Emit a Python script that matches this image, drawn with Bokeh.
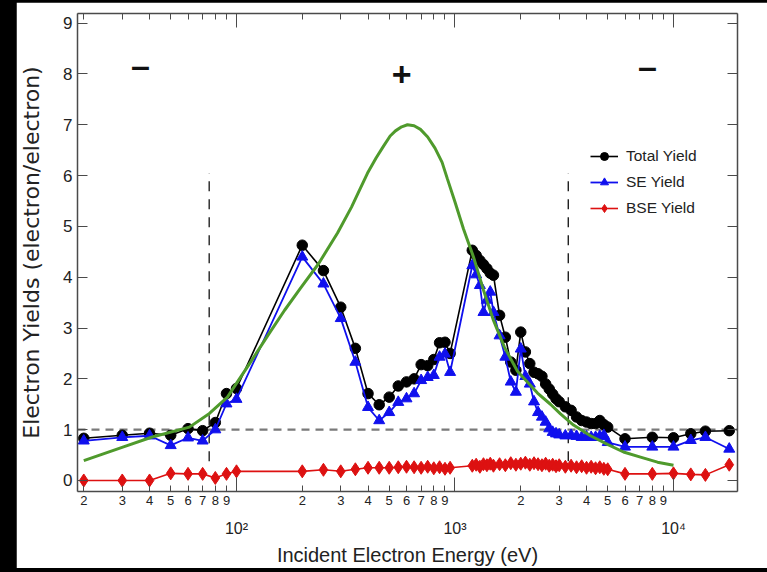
from bokeh.plotting import figure
from bokeh.models import (Range1d, FixedTicker, LogAxis, LinearAxis, Legend,
                          GlobalInlineStyleSheet)
from bokeh.core.properties import value
from bokeh.embed import file_html
from bokeh.resources import INLINE

# ---------------- data ----------------
energy_eV = [20, 30, 40, 50, 60, 70, 80, 90, 100,
             200, 250, 300, 350, 400, 450, 500, 550, 600, 650, 700, 750, 800, 850, 900, 950,
             1200, 1250, 1300, 1350, 1400, 1450, 1500, 1600, 1700, 1800, 1900, 2000, 2100,
             2200, 2300, 2400, 2500, 2600, 2700, 2800, 2900, 3000, 3200, 3400, 3600, 3800,
             4000, 4200, 4400, 4600, 4800, 5000,
             6000, 8000, 10000, 12000, 14000, 18000]

total_yield = [0.83, 0.89, 0.93, 0.89, 1.02, 0.98, 1.14, 1.71, 1.81,
               4.63, 4.13, 3.41, 2.60, 1.71, 1.49, 1.64, 1.86, 1.94, 2.00, 2.28, 2.26, 2.38, 2.71, 2.72, 2.50,
               4.53, 4.43, 4.33, 4.25, 4.17, 4.08, 4.04, 3.25, 2.82, 2.33, 2.17, 2.92, 2.53,
               2.30, 2.13, 2.10, 2.05, 1.90, 1.80, 1.70, 1.61, 1.55, 1.45, 1.38, 1.25, 1.18,
               1.15, 1.12, 1.12, 1.18, 1.10, 1.05,
               0.82, 0.85, 0.84, 0.92, 0.97, 0.98]

se_yield = [0.78, 0.85, 0.88, 0.69, 0.84, 0.78, 1.00, 1.51, 1.60,
            4.40, 3.87, 3.19, 2.33, 1.44, 1.18, 1.34, 1.54, 1.61, 1.71, 1.97, 2.03, 2.07, 2.43, 2.49, 2.13,
            4.23, 4.05, 3.84, 3.31, 3.55, 3.71, 3.31, 2.85, 2.43, 1.94, 1.74, 2.59, 2.05,
            1.90, 1.55, 1.34, 1.25, 1.15, 1.02, 0.95, 0.92, 0.90, 0.88, 0.89, 0.87, 0.85,
            0.86, 0.85, 0.85, 0.87, 0.89, 0.75,
            0.66, 0.66, 0.66, 0.79, 0.85, 0.62]

bse_yield = [0.00, 0.00, 0.00, 0.14, 0.13, 0.13, 0.05, 0.13, 0.18,
             0.18, 0.21, 0.18, 0.22, 0.25, 0.25, 0.25, 0.26, 0.27, 0.26, 0.25, 0.27, 0.24, 0.26, 0.23, 0.25,
             0.29, 0.31, 0.27, 0.32, 0.30, 0.33, 0.29, 0.32, 0.30, 0.34, 0.31, 0.33, 0.35,
             0.31, 0.34, 0.32, 0.30, 0.33, 0.29, 0.31, 0.28, 0.30, 0.27, 0.29, 0.26, 0.28,
             0.25, 0.27, 0.24, 0.26, 0.23, 0.22,
             0.13, 0.13, 0.14, 0.12, 0.11, 0.31]

fit_energy = [20, 30.4, 40.8, 60.9, 75.2, 90.9, 101, 116, 139, 166, 196, 237, 290, 336,
              366, 398, 436, 471, 505, 534, 570, 606, 650, 695, 750, 810, 873, 924, 1000,
              1094, 1215, 1350, 1501, 1685, 1932, 2386, 2735, 3040, 3486, 4170, 4990, 5904,
              7063, 8450, 10000]
fit_yield = [0.39, 0.66, 0.85, 1.05, 1.32, 1.64, 1.94, 2.33, 2.85, 3.35, 3.78, 4.26, 4.87, 5.38,
             5.72, 6.05, 6.35, 6.58, 6.78, 6.88, 6.96, 7.00, 6.98, 6.91, 6.76, 6.54, 6.26, 5.93, 5.48,
             4.95, 4.40, 3.75, 3.15, 2.62, 2.15, 1.72, 1.50, 1.31, 1.09, 0.88, 0.71, 0.56,
             0.46, 0.36, 0.30]

unity_level = 1.0
boundary_energy = [75, 3300]
boundary_y = [0.38, 6.05]

sign_energy = [36.3, 570, 7600]
sign_y = [8.17, 7.98, 8.15]
sign_text = ["\u2013", "+", "\u2013"]

y_ticks = [0, 1, 2, 3, 4, 5, 6, 7, 8, 9]
x_label_ticks = [20, 30, 40, 50, 60, 70, 80, 90,
                 200, 300, 400, 500, 600, 700, 800, 900,
                 2000, 3000, 4000, 5000, 6000, 7000, 8000, 9000]
x_label_text = ["2", "3", "4", "5", "6", "7", "8", "9",
                "2", "3", "4", "5", "6", "7", "8", "9",
                "2", "3", "4", "5", "6", "7", "8", "9"]
x_decades = [100, 1000, 10000]
x_decade_text = ["10\u00b2", "10\u00b3", "10\u2074"]

# ---------------- figure ----------------
SANS = "Liberation Sans"
AX = "#4a4a4a"
TXT = "#222222"

p = figure(frame_width=660, frame_height=478, x_axis_type="log",
           x_range=Range1d(18.72, 19635), y_range=Range1d(-0.217, 9.19),
           output_backend="svg", toolbar_location=None,
           min_border_left=61, min_border_right=30, min_border_top=11, min_border_bottom=77,
           background_fill_color="white", border_fill_color="white",
           outline_line_color=None)
p.grid.visible = False
p.stylesheets = [GlobalInlineStyleSheet(css="html, body {background:#000 !important;} "
                                            "body {margin:0 !important; padding:2px 0 0 16px !important;}")]

# bottom axis A (digit labels, decade ticks drawn as longer minor ticks)
xa = p.xaxis[0]
xa.ticker = FixedTicker(ticks=x_label_ticks, minor_ticks=x_decades)
xa.major_label_overrides = {t: s for t, s in zip(x_label_ticks, x_label_text)}
xa.major_tick_in = 6
xa.major_tick_out = 0
xa.minor_tick_in = 14
xa.minor_tick_out = 0
xa.major_label_standoff = 4
xa.major_label_text_font = SANS
xa.major_label_text_font_size = "13px"
xa.major_label_text_color = TXT
xa.axis_line_color = AX
xa.axis_line_width = 1.5
xa.major_tick_line_color = AX
xa.minor_tick_line_color = AX

# bottom axis B (decade labels + axis title)
xb = LogAxis(ticker=FixedTicker(ticks=x_decades))
xb.major_label_overrides = {t: s for t, s in zip(x_decades, x_decade_text)}
xb.axis_line_color = None
xb.major_tick_line_color = None
xb.minor_tick_line_color = None
xb.major_label_standoff = 6
xb.major_label_text_font = SANS
xb.major_label_text_font_size = "16px"
xb.major_label_text_color = TXT
xb.axis_label = "Incident Electron Energy (eV)"
xb.axis_label_text_font = SANS
xb.axis_label_text_font_size = "20px"
xb.axis_label_text_font_style = "normal"
xb.axis_label_text_color = TXT
xb.axis_label_standoff = 4
p.add_layout(xb, "below")

# top axis
xt = LogAxis(ticker=FixedTicker(ticks=x_label_ticks, minor_ticks=x_decades))
xt.major_label_overrides = {t: "" for t in x_label_ticks}
xt.major_tick_in = 6
xt.major_tick_out = 0
xt.minor_tick_in = 14
xt.minor_tick_out = 0
xt.axis_line_color = AX
xt.axis_line_width = 1.5
xt.major_tick_line_color = AX
xt.minor_tick_line_color = AX
p.add_layout(xt, "above")

# left axis
ya = p.yaxis[0]
ya.ticker = FixedTicker(ticks=y_ticks)
ya.major_tick_in = 10
ya.major_tick_out = 0
ya.minor_tick_line_color = None
ya.major_label_standoff = 5
ya.major_label_text_font = SANS
ya.major_label_text_font_size = "17px"
ya.major_label_text_color = TXT
ya.axis_line_color = AX
ya.axis_line_width = 1.5
ya.major_tick_line_color = AX
ya.axis_label = "Electron Yields (electron/electron)"
ya.axis_label_text_font = "DejaVu Sans"
ya.axis_label_text_font_size = "22px"
ya.axis_label_text_font_style = "normal"
ya.axis_label_text_color = TXT
ya.axis_label_standoff = 16

# right axis
yr = LinearAxis(ticker=FixedTicker(ticks=y_ticks))
yr.major_label_overrides = {t: "" for t in y_ticks}
yr.major_tick_in = 10
yr.major_tick_out = 0
yr.minor_tick_line_color = None
yr.axis_line_color = AX
yr.axis_line_width = 1.5
yr.major_tick_line_color = AX
p.add_layout(yr, "right")

# reference lines
p.line(x=[18.72, 19635], y=[unity_level, unity_level], line_color="#7a7a7a",
       line_width=2.2, line_dash="8 6")
for e in boundary_energy:
    p.line(x=[e, e], y=boundary_y, line_color="#222222", line_width=1.4, line_dash="10 8")

# series
RED = "#dd1111"
BLACK = "#000000"
BLUE = "#1010ee"
GREEN = "#4f9a2c"

r_bse_l = p.line(energy_eV, bse_yield, line_color=RED, line_width=1.6)
r_bse_m = p.scatter(energy_eV, bse_yield, marker="diamond", size=13,
                    fill_color=RED, line_color=RED)
r_tot_l = p.line(energy_eV, total_yield, line_color=BLACK, line_width=1.6)
r_tot_m = p.scatter(energy_eV, total_yield, marker="circle", size=10.5,
                    fill_color=BLACK, line_color=BLACK)
r_se_l = p.line(energy_eV, se_yield, line_color=BLUE, line_width=1.8)
r_se_m = p.scatter(energy_eV, se_yield, marker="triangle", size=11,
                   fill_color=BLUE, line_color=BLUE)
p.line(fit_energy, fit_yield, line_color=GREEN, line_width=3)

p.text(x=sign_energy, y=sign_y, text=sign_text, text_font=value(SANS),
       text_font_size="34px", text_font_style="bold", text_color="#111111",
       text_align="center", text_baseline="middle")

legend = Legend(items=[("Total Yield", [r_tot_l, r_tot_m]),
                       ("SE Yield", [r_se_l, r_se_m]),
                       ("BSE Yield", [r_bse_l, r_bse_m])],
                location=(513, 273), padding=0, margin=0, spacing=6,
                glyph_width=28, glyph_height=20, label_height=20, label_standoff=8,
                border_line_color=None, background_fill_alpha=0,
                label_text_font=SANS, label_text_font_size="15.5px",
                label_text_color=TXT)
p.add_layout(legend, "center")

open("out.html", "w").write(file_html(p, INLINE))
